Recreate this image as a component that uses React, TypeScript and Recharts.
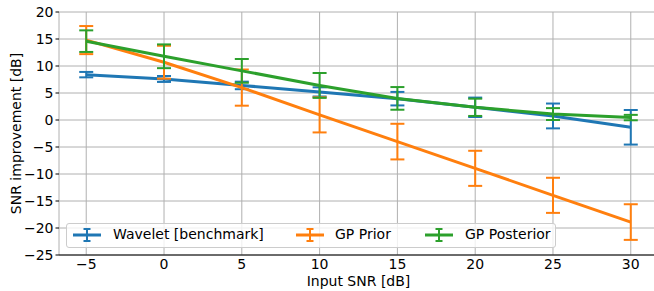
import React from 'react';
import { LineChart, Line, XAxis, YAxis, CartesianGrid, ErrorBar, Legend, Customized } from 'recharts';

const snr = [-5, 0, 5, 10, 15, 20, 25, 30];
const waveletMean = [8.4, 7.6, 6.4, 5.2, 3.95, 2.35, 0.75, -1.35];
const waveletErr = [0.5, 0.55, 0.7, 0.85, 1.25, 1.8, 2.3, 3.2];
const priorMean = [14.8, 10.7, 6.0, 0.95, -4.0, -8.95, -13.95, -18.9];
const priorErr = [2.6, 3.05, 3.35, 3.25, 3.3, 3.25, 3.25, 3.3];
const posteriorMean = [14.6, 11.8, 9.1, 6.4, 4.0, 2.35, 1.1, 0.45];
const posteriorErr = [2.0, 2.2, 2.2, 2.3, 2.1, 1.6, 1.1, 0.5];

const xTicks = [-5, 0, 5, 10, 15, 20, 25, 30];
const yTicks = [-25, -20, -15, -10, -5, 0, 5, 10, 15, 20];

const seriesNames = ['Wavelet [benchmark]', 'GP Prior', 'GP Posterior'];
const colors = ['#1f77b4', '#ff7f0e', '#2ca02c'];

const data = snr.map((x, i) => ({
  x,
  w: waveletMean[i],
  we: waveletErr[i],
  p: priorMean[i],
  pe: priorErr[i],
  g: posteriorMean[i],
  ge: posteriorErr[i],
}));

const FONT = 'DejaVu Sans';
const fmt = (v: number) => (v < 0 ? '\u2212' + Math.abs(v) : String(v));

const ErrIcon = ({ color }: { color: string }) => (
  <svg width={30} height={16} style={{ display: 'block' }}>
    <line x1={1} y1={8} x2={29} y2={8} stroke={color} strokeWidth={3} />
    <line x1={15} y1={2} x2={15} y2={14} stroke={color} strokeWidth={2} />
    <line x1={11.5} y1={2} x2={18.5} y2={2} stroke={color} strokeWidth={2} />
    <line x1={11.5} y1={14} x2={18.5} y2={14} stroke={color} strokeWidth={2} />
  </svg>
);

const LegendBox = () => {
  const iconLefts = [5, 228, 357];
  const textLefts = [46, 268, 398];
  return (
    <div
      style={{
        position: 'relative',
        width: 490,
        height: 25,
        boxSizing: 'border-box',
        border: '1px solid #cccccc',
        borderRadius: 3,
        background: 'rgba(255,255,255,0.8)',
        fontFamily: FONT,
        fontSize: 14,
        color: '#000',
      }}
    >
      {seriesNames.map((n, i) => (
        <React.Fragment key={n}>
          <div style={{ position: 'absolute', left: iconLefts[i], top: 3 }}>
            <ErrIcon color={colors[i]} />
          </div>
          <div style={{ position: 'absolute', left: textLefts[i], top: 2, lineHeight: '17px', whiteSpace: 'nowrap' }}>{n}</div>
        </React.Fragment>
      ))}
    </div>
  );
};

const Labels = (props: any) => {
  const off = props.offset || { left: 59, top: 12, width: 599, height: 243 };
  const cx = off.left + off.width / 2;
  const cy = off.top + off.height / 2;
  return (
    <g fontFamily={FONT} fontSize={14} fill="#000">
      <text x={cx} y={285.5} textAnchor="middle">Input SNR [dB]</text>
      <text x={20.5} y={cy} textAnchor="middle" transform={`rotate(-90, 20.5, ${cy})`}>SNR improvement [dB]</text>
    </g>
  );
};

export default function App() {
  return (
    <div style={{ position: 'absolute', left: 0, top: 0, width: 654, height: 291, overflow: 'hidden', background: '#fff' }}>
      <LineChart width={660} height={291} data={data} margin={{ top: 12, right: 2, bottom: 6, left: 0 }}>
        <CartesianGrid stroke="#b0b0b0" strokeWidth={1} />
        <XAxis
          dataKey="x"
          type="number"
          domain={[-6.75, 31.75]}
          ticks={xTicks}
          tickFormatter={fmt}
          tickLine={false}
          tickSize={0}
          tickMargin={4}
          height={30}
          axisLine={{ stroke: '#000', strokeWidth: 1 }}
          tick={{ fill: '#000', fontSize: 14, fontFamily: FONT }}
          allowDataOverflow
        />
        <YAxis
          type="number"
          domain={[-25, 20]}
          ticks={yTicks}
          tickFormatter={fmt}
          width={59}
          axisLine={false}
          tickSize={3.5}
          tickMargin={2}
          tickLine={{ stroke: '#000', strokeWidth: 1 }}
          tick={{ fill: '#000', fontSize: 14, fontFamily: FONT }}
          allowDataOverflow
        />
        <Line dataKey="w" stroke={colors[0]} strokeWidth={3} dot={false} isAnimationActive={false}>
          <ErrorBar dataKey="we" stroke={colors[0]} strokeWidth={2} width={7} direction="y" isAnimationActive={false} />
        </Line>
        <Line dataKey="p" stroke={colors[1]} strokeWidth={3} dot={false} isAnimationActive={false}>
          <ErrorBar dataKey="pe" stroke={colors[1]} strokeWidth={2} width={7} direction="y" isAnimationActive={false} />
        </Line>
        <Line dataKey="g" stroke={colors[2]} strokeWidth={3} dot={false} isAnimationActive={false}>
          <ErrorBar dataKey="ge" stroke={colors[2]} strokeWidth={2} width={7} direction="y" isAnimationActive={false} />
        </Line>
        <Legend
          layout="horizontal"
          verticalAlign="middle"
          align="center"
          content={() => <LegendBox />}
          wrapperStyle={{ position: 'absolute', left: 66, top: 223, width: 490, height: 25 }}
        />
        <Customized component={Labels} />
      </LineChart>
    </div>
  );
}
